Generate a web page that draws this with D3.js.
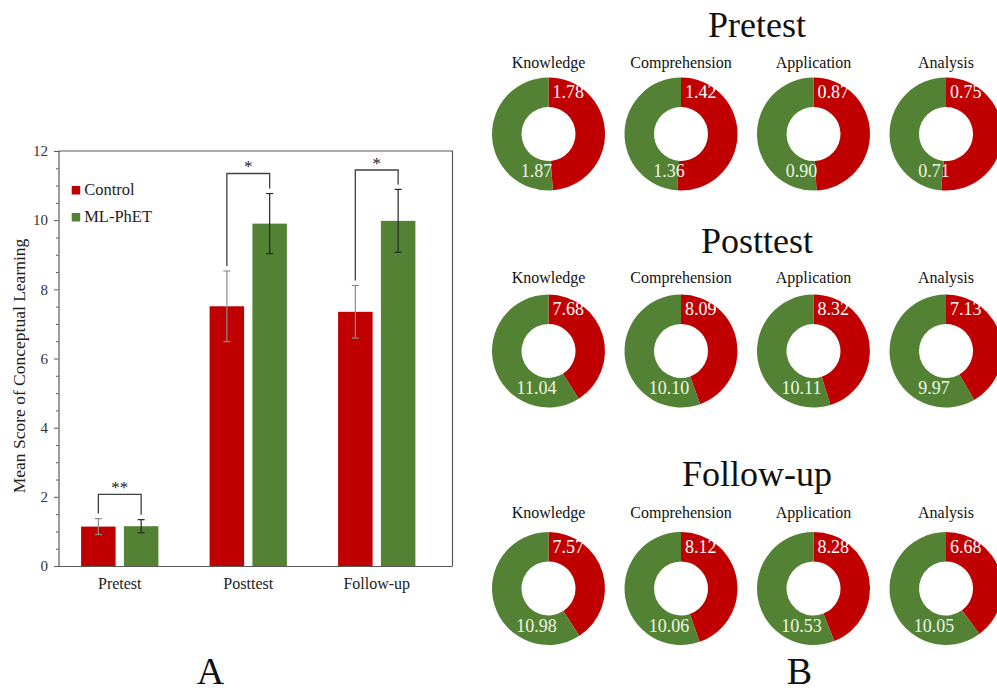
<!DOCTYPE html>
<html>
<head>
<meta charset="utf-8">
<script src="https://cdn.jsdelivr.net/npm/d3@7"></script>
<style>
  html, body { margin: 0; padding: 0; background: #fff; }
  svg { display: block; }
  text { font-family: "Liberation Serif", "Times New Roman", serif; }
</style>
</head>
<body>
<svg id="chart" width="997" height="693"></svg>
<script>
// ---------- DATA ----------
const categories = ["Pretest", "Posttest", "Follow-up"];
const seriesNames = ["Control", "ML-PhET"];
const controlMean = [1.14, 7.51, 7.35];
const controlSD   = [0.23, 1.02, 0.76];
const mlMean      = [1.15, 9.90, 9.98];
const mlSD        = [0.19, 0.87, 0.91];
const bracketLevel = [2.07, 11.35, 11.45];
const bracketLabel = ["**", "*", "*"];
const yTicks = [0, 2, 4, 6, 8, 10, 12];

const dimensions = ["Knowledge", "Comprehension", "Application", "Analysis"];
const tests = ["Pretest", "Posttest", "Follow-up"];
const controlPre    = [1.78, 1.42, 0.87, 0.75];
const mlPre         = [1.87, 1.36, 0.90, 0.71];
const controlPost   = [7.68, 8.09, 8.32, 7.13];
const mlPost        = [11.04, 10.10, 10.11, 9.97];
const controlFollow = [7.57, 8.12, 8.28, 6.68];
const mlFollow      = [10.98, 10.06, 10.53, 10.05];

// ---------- STYLE ----------
const RED = "#C00000", GREEN = "#548235", AXIS = "#595959";
const svg = d3.select("#chart");

// ---------- PANEL A: bar chart ----------
const frame = {left: 58.5, right: 452.5, top: 151, bottom: 566};
const y = d3.scaleLinear().domain([0, 12]).range([frame.bottom, frame.top]);
const x0 = d3.scaleBand().domain(categories).range([55.5, 441]).padding(0);
const groupW = 77.3;
const x1 = d3.scaleBand().domain(seriesNames)
  .range([x0.bandwidth() / 2 - groupW / 2, x0.bandwidth() / 2 + groupW / 2])
  .paddingInner(0.194).paddingOuter(0);
const color = d3.scaleOrdinal().domain(seriesNames).range([RED, GREEN]);

const rows = categories.map((c, i) => ({
  cat: c,
  vals: [
    {s: "Control", m: controlMean[i], sd: controlSD[i]},
    {s: "ML-PhET", m: mlMean[i], sd: mlSD[i]}
  ],
  level: bracketLevel[i], label: bracketLabel[i]
}));

const gA = svg.append("g");

// bars
const grp = gA.selectAll("g.grp").data(rows).join("g")
  .attr("transform", d => `translate(${x0(d.cat)},0)`);
grp.selectAll("rect").data(d => d.vals).join("rect")
  .attr("x", d => x1(d.s))
  .attr("width", x1.bandwidth())
  .attr("y", d => y(d.m))
  .attr("height", d => y(0) - y(d.m))
  .attr("fill", d => color(d.s));

// error bars
const eb = grp.selectAll("g.eb").data(d => d.vals).join("g")
  .attr("stroke", d => d.s === "Control" ? "#8c8c8c" : "#262626")
  .attr("stroke-width", 1.2);
eb.append("line")
  .attr("x1", d => x1(d.s) + x1.bandwidth() / 2).attr("x2", d => x1(d.s) + x1.bandwidth() / 2)
  .attr("y1", d => y(d.m + d.sd)).attr("y2", d => y(d.m - d.sd));
eb.append("line")
  .attr("x1", d => x1(d.s) + x1.bandwidth() / 2 - 3.5).attr("x2", d => x1(d.s) + x1.bandwidth() / 2 + 3.5)
  .attr("y1", d => y(d.m + d.sd)).attr("y2", d => y(d.m + d.sd));
eb.append("line")
  .attr("x1", d => x1(d.s) + x1.bandwidth() / 2 - 3.5).attr("x2", d => x1(d.s) + x1.bandwidth() / 2 + 3.5)
  .attr("y1", d => y(d.m - d.sd)).attr("y2", d => y(d.m - d.sd));

// significance brackets
grp.append("path")
  .attr("fill", "none").attr("stroke", "#404040").attr("stroke-width", 1.3)
  .attr("d", d => {
    const xa = x1("Control") + x1.bandwidth() / 2;
    const xb = x1("ML-PhET") + x1.bandwidth() / 2;
    const ya = y(d.vals[0].m + d.vals[0].sd) - 5;
    const yb = y(d.vals[1].m + d.vals[1].sd) - 5;
    const yt = y(d.level);
    return `M${xa},${ya}V${yt}H${xb}V${yb}`;
  });
grp.append("text")
  .attr("x", x0.bandwidth() / 2)
  .attr("y", d => y(d.level) - 1.5)
  .attr("text-anchor", "middle")
  .attr("font-size", 17).attr("fill", "#222")
  .text(d => d.label);

// frame (top & right)
gA.append("path").attr("fill", "none").attr("stroke", AXIS).attr("stroke-width", 1.2)
  .attr("d", `M${frame.left},${frame.top}H${frame.right}V${frame.bottom}`);

// y axis
const yAxis = gA.append("g").attr("transform", `translate(${frame.left},0)`)
  .call(d3.axisLeft(y).tickValues(yTicks).tickSize(4.5).tickPadding(6).tickFormat(d3.format("d")));
yAxis.select(".domain").attr("stroke", AXIS).attr("stroke-width", 1.2);
yAxis.selectAll(".tick line").attr("stroke", AXIS);
yAxis.selectAll("text").attr("font-size", 15).attr("fill", "#333");
// minor ticks
gA.append("g").attr("transform", `translate(${frame.left},0)`)
  .call(d3.axisLeft(y).tickValues(d3.range(0, 12.01, 0.5).filter(v => v % 2 !== 0)).tickSize(2.5).tickFormat(""))
  .call(g => g.select(".domain").remove())
  .selectAll(".tick line").attr("stroke", AXIS);

// x axis
const xAxis = gA.append("g").attr("transform", `translate(0,${frame.bottom})`)
  .call(d3.axisBottom(x0).tickSize(0).tickPadding(12));
xAxis.select(".domain").attr("d", `M${frame.left},0.5H${frame.right}`)
  .attr("stroke", AXIS).attr("stroke-width", 1.2);
xAxis.selectAll("text").attr("font-size", 16).attr("fill", "#222");

// y label
gA.append("text")
  .attr("transform", "translate(25,366) rotate(-90)")
  .attr("text-anchor", "middle").attr("font-size", 17.5).attr("fill", "#222")
  .text("Mean Score of Conceptual Learning");

// legend
const leg = gA.selectAll("g.leg").data(seriesNames).join("g")
  .attr("transform", (d, i) => `translate(71.7,${186 + i * 27})`);
leg.append("rect").attr("width", 8.5).attr("height", 8.5).attr("fill", d => color(d));
leg.append("text").attr("x", 12.5).attr("y", 9).attr("font-size", 16.5).attr("fill", "#222").text(d => d);

// panel letter
svg.append("text").attr("x", 210.5).attr("y", 684).attr("text-anchor", "middle")
  .attr("font-size", 38).attr("fill", "#111").text("A");

// ---------- PANEL B: doughnuts ----------
const donutData = [
  {test: tests[0], ctrl: controlPre, ml: mlPre},
  {test: tests[1], ctrl: controlPost, ml: mlPost},
  {test: tests[2], ctrl: controlFollow, ml: mlFollow}
];
const rowLayout = [
  {cy: 134, titleY: 37, labelY: 68},
  {cy: 351, titleY: 253, labelY: 283},
  {cy: 588.5, titleY: 486, labelY: 518}
];
const xd = d3.scalePoint().domain(dimensions).range([548.5, 946]);
const pie = d3.pie().sort(null).value(d => d.v);
const arc = d3.arc().innerRadius(27).outerRadius(56.5);

donutData.forEach((row, ri) => {
  const L = rowLayout[ri];
  const g = svg.append("g");
  g.append("text").attr("x", 757).attr("y", L.titleY).attr("text-anchor", "middle")
    .attr("font-size", 36).attr("fill", "#111").text(row.test);
  dimensions.forEach((dim, di) => {
    const cx = xd(dim);
    const slices = [{s: "Control", v: row.ctrl[di]}, {s: "ML-PhET", v: row.ml[di]}];
    const dg = g.append("g").attr("transform", `translate(${cx},${L.cy})`);
    dg.selectAll("path").data(pie(slices)).join("path")
      .attr("d", arc).attr("fill", d => color(d.data.s));
    dg.append("text").attr("x", 0).attr("y", L.labelY - L.cy).attr("text-anchor", "middle")
      .attr("font-size", 16).attr("fill", "#111").text(dim);
    dg.append("text").attr("x", 4).attr("y", -36).attr("text-anchor", "start")
      .attr("font-size", 18).attr("fill", "#ffffff").text(d3.format(".2f")(slices[0].v));
    dg.append("text").attr("x", -12).attr("y", 43).attr("text-anchor", "middle")
      .attr("font-size", 18).attr("fill", "#eef6e4").text(d3.format(".2f")(slices[1].v));
  });
});

svg.append("text").attr("x", 799.5).attr("y", 684).attr("text-anchor", "middle")
  .attr("font-size", 38).attr("fill", "#111").text("B");
</script>
</body>
</html>
